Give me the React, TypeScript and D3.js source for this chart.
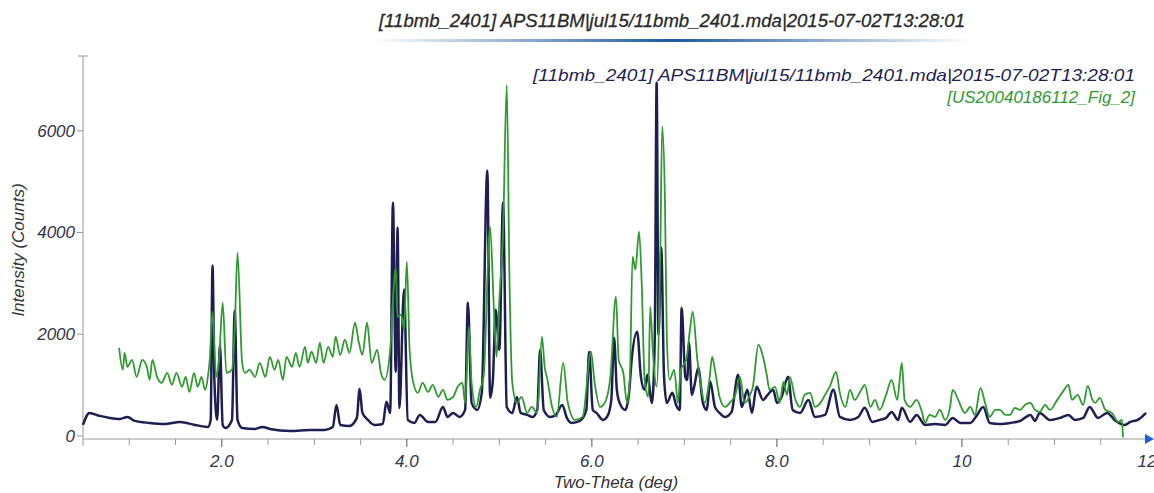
import React from "react";
import * as d3 from "d3";

// two-theta (deg), intensity (counts)
const navyX = [0.5, 0.57, 0.68, 0.79, 0.9, 0.98, 1.06, 1.22, 1.38, 1.55, 1.71, 1.85, 1.88, 1.9, 1.92, 1.95, 1.98, 2.01, 2.04, 2.11, 2.14, 2.17, 2.22, 2.36, 2.44, 2.52, 2.74, 2.95, 3.11, 3.2, 3.24, 3.28, 3.38, 3.46, 3.49, 3.52, 3.58, 3.65, 3.74, 3.78, 3.82, 3.85, 3.88, 3.9, 3.92, 3.97, 4.01, 4.08, 4.14, 4.23, 4.31, 4.39, 4.44, 4.5, 4.57, 4.63, 4.66, 4.7, 4.76, 4.81, 4.87, 4.9, 4.93, 4.96, 5.0, 5.04, 5.08, 5.14, 5.19, 5.23, 5.3, 5.36, 5.41, 5.44, 5.48, 5.55, 5.61, 5.68, 5.73, 5.78, 5.87, 5.94, 5.97, 6.01, 6.05, 6.12, 6.17, 6.21, 6.24, 6.27, 6.3, 6.36, 6.4, 6.43, 6.49, 6.53, 6.57, 6.6, 6.65, 6.68, 6.7, 6.72, 6.75, 6.78, 6.81, 6.87, 6.91, 6.95, 6.97, 7.01, 7.03, 7.05, 7.08, 7.11, 7.15, 7.2, 7.24, 7.28, 7.33, 7.38, 7.44, 7.51, 7.58, 7.62, 7.68, 7.73, 7.78, 7.85, 7.9, 7.96, 8.0, 8.05, 8.12, 8.17, 8.25, 8.34, 8.41, 8.52, 8.61, 8.68, 8.79, 8.88, 8.95, 9.03, 9.11, 9.18, 9.24, 9.31, 9.35, 9.44, 9.51, 9.6, 9.71, 9.82, 9.9, 9.98, 10.09, 10.15, 10.23, 10.3, 10.41, 10.52, 10.63, 10.74, 10.79, 10.84, 10.95, 11.06, 11.15, 11.22, 11.31, 11.38, 11.47, 11.57, 11.65, 11.76, 11.82, 11.9, 11.99];
const navyY = [217, 453, 394, 355, 335, 374, 296, 256, 236, 276, 217, 177, 315, 3350, 1100, 315, 1790, 217, 158, 315, 2460, 315, 158, 138, 177, 138, 98, 118, 118, 177, 610, 217, 197, 355, 925, 453, 315, 217, 236, 670, 453, 4590, 1260, 4100, 550, 2880, 315, 256, 414, 276, 276, 571, 374, 453, 374, 512, 2620, 650, 512, 847, 5220, 749, 1100, 2480, 1694, 4590, 571, 453, 768, 453, 414, 374, 512, 1694, 512, 374, 414, 610, 355, 256, 296, 512, 1655, 512, 453, 315, 394, 709, 1930, 906, 650, 512, 808, 1497, 2049, 1162, 906, 1202, 650, 1950, 6950, 1990, 3700, 1162, 650, 847, 610, 512, 2520, 1162, 1100, 1832, 808, 1005, 1340, 650, 512, 1064, 571, 453, 374, 473, 1202, 571, 906, 453, 965, 709, 808, 906, 650, 768, 1162, 512, 453, 709, 374, 414, 906, 374, 315, 374, 552, 276, 315, 355, 473, 315, 552, 276, 414, 217, 236, 217, 355, 256, 256, 374, 571, 256, 236, 256, 296, 414, 296, 453, 315, 355, 414, 315, 355, 571, 355, 453, 315, 217, 276, 315, 453];

const greenX = [0.89, 0.93, 0.95, 0.98, 1.03, 1.08, 1.14, 1.19, 1.22, 1.25, 1.3, 1.35, 1.41, 1.46, 1.51, 1.57, 1.61, 1.65, 1.7, 1.74, 1.78, 1.82, 1.85, 1.87, 1.9, 1.94, 1.97, 2.01, 2.05, 2.11, 2.14, 2.17, 2.22, 2.25, 2.3, 2.36, 2.41, 2.47, 2.52, 2.57, 2.61, 2.66, 2.7, 2.76, 2.8, 2.84, 2.9, 2.93, 2.97, 3.02, 3.06, 3.1, 3.15, 3.2, 3.23, 3.28, 3.33, 3.38, 3.44, 3.48, 3.52, 3.57, 3.62, 3.68, 3.72, 3.76, 3.82, 3.85, 3.88, 3.9, 3.94, 3.97, 4.0, 4.03, 4.07, 4.12, 4.17, 4.23, 4.28, 4.34, 4.39, 4.44, 4.5, 4.55, 4.6, 4.63, 4.67, 4.7, 4.75, 4.79, 4.83, 4.9, 4.94, 4.97, 5.0, 5.04, 5.08, 5.11, 5.14, 5.19, 5.24, 5.3, 5.35, 5.41, 5.46, 5.49, 5.52, 5.57, 5.62, 5.69, 5.74, 5.82, 5.9, 5.99, 6.03, 6.09, 6.14, 6.2, 6.26, 6.29, 6.34, 6.38, 6.41, 6.44, 6.47, 6.51, 6.54, 6.57, 6.61, 6.63, 6.66, 6.7, 6.74, 6.76, 6.79, 6.81, 6.84, 6.89, 6.93, 6.96, 7.02, 7.06, 7.09, 7.14, 7.17, 7.22, 7.27, 7.3, 7.33, 7.38, 7.44, 7.49, 7.55, 7.6, 7.65, 7.71, 7.74, 7.8, 7.85, 7.89, 7.92, 7.98, 8.03, 8.07, 8.11, 8.14, 8.2, 8.25, 8.3, 8.36, 8.41, 8.47, 8.52, 8.57, 8.64, 8.68, 8.74, 8.79, 8.84, 8.9, 8.95, 9.01, 9.06, 9.11, 9.18, 9.24, 9.3, 9.35, 9.38, 9.44, 9.51, 9.57, 9.6, 9.65, 9.71, 9.76, 9.82, 9.87, 9.9, 9.96, 10.03, 10.09, 10.14, 10.2, 10.25, 10.3, 10.36, 10.41, 10.47, 10.52, 10.57, 10.63, 10.68, 10.74, 10.79, 10.84, 10.9, 10.95, 11.03, 11.09, 11.15, 11.19, 11.25, 11.31, 11.36, 11.41, 11.44, 11.49, 11.55, 11.62, 11.69, 11.73, 11.74];
const greenY = [1734, 1300, 1635, 1359, 1497, 1162, 1497, 1359, 1103, 1497, 1162, 1044, 1241, 1005, 1241, 965, 1162, 867, 1241, 965, 1162, 906, 1162, 1497, 2443, 1162, 1497, 2620, 1241, 1300, 2088, 3605, 1438, 1241, 1300, 1162, 1438, 1162, 1556, 1300, 1497, 1103, 1556, 1359, 1635, 1359, 1753, 1438, 1655, 1438, 1832, 1438, 1753, 1556, 1950, 1596, 1891, 1635, 2226, 1852, 1596, 2226, 1438, 1694, 1241, 1103, 1694, 2679, 3330, 2344, 2384, 2088, 3428, 1694, 1044, 847, 1044, 867, 1005, 768, 906, 709, 768, 965, 1044, 650, 2147, 1044, 571, 906, 1162, 4117, 2541, 1556, 2679, 3999, 6895, 3014, 1044, 650, 768, 453, 571, 453, 1950, 1359, 1103, 571, 374, 1438, 650, 315, 374, 1655, 1044, 571, 650, 1162, 2738, 1497, 1241, 650, 1103, 3526, 3270, 4019, 2935, 1103, 768, 2541, 1635, 965, 3664, 6087, 4590, 1950, 1103, 1300, 650, 1300, 1497, 2088, 2443, 1497, 1103, 650, 1103, 1556, 1300, 768, 571, 650, 808, 1162, 650, 808, 965, 1793, 1556, 1202, 906, 965, 650, 1064, 808, 1162, 709, 571, 808, 847, 571, 650, 808, 965, 1261, 847, 571, 906, 709, 867, 1005, 571, 709, 512, 808, 1103, 709, 1438, 709, 571, 709, 453, 256, 414, 374, 512, 315, 552, 906, 709, 453, 571, 414, 946, 650, 374, 512, 512, 414, 414, 552, 512, 610, 650, 512, 473, 610, 512, 709, 867, 1005, 709, 808, 610, 985, 709, 650, 749, 512, 453, 276, 315, -30];

const xTicks = [1, 1.5, 2, 2.5, 3, 3.5, 4, 4.5, 5, 5.5, 6, 6.5, 7, 7.5, 8, 8.5, 9, 9.5, 10, 10.5, 11, 11.5];
const xLabelValues = [2, 4, 6, 8, 10, 12];
const xLabelText = ["2.0", "4.0", "6.0", "8.0", "10", "12"];
const yTicks = [0, 2000, 4000, 6000];

const titleText = "[11bmb_2401] APS11BM|jul15/11bmb_2401.mda|2015-07-02T13:28:01";
const seriesNames = ["[11bmb_2401] APS11BM|jul15/11bmb_2401.mda|2015-07-02T13:28:01", "[US20040186112_Fig_2]"];
const seriesColors = ["#1e1e52", "#2f9a2f"];

const W = 1154;
const H = 493;
const font = "'Liberation Sans', Arial, sans-serif";

export default function App() {
  const x = d3.scaleLinear().domain([0.5, 12]).range([83, 1147]);
  const y = d3.scaleLinear().domain([-60, 7470]).range([439, 56]);

  const line = d3.line<[number, number]>()
    .x(d => x(d[0]))
    .y(d => y(d[1]))
    .curve(d3.curveMonotoneX);
  const navy = navyX.map((v, i) => [v, navyY[i]] as [number, number]);
  const green = greenX.map((v, i) => [v, greenY[i]] as [number, number]);

  const x0 = x.range()[0];
  const x1 = x.range()[1];
  const yBase = y(-60);

  return (
    <svg width={W} height={H} style={{ position: "absolute", left: 0, top: 0, background: "#fff" }}
      fontFamily={font} fontStyle="italic">
      <defs>
        <linearGradient id="uline" x1="0" x2="1" y1="0" y2="0">
          <stop offset="0" stopColor="#ffffff" />
          <stop offset="0.5" stopColor="#1d5a9c" />
          <stop offset="1" stopColor="#ffffff" />
        </linearGradient>
      </defs>

      {/* title */}
      <text x={672} y={27} textAnchor="middle" fontSize={18} fill="#2a2a2a" stroke="#2a2a2a" strokeWidth={0.3}
        textLength={586} lengthAdjust="spacingAndGlyphs">
        {titleText}
      </text>
      <rect x={372} y={39} width={600} height={3} fill="url(#uline)" />

      {/* axes */}
      <line x1={x0} x2={x0} y1={56} y2={446} stroke="#999" />
      <line x1={x0 - 5} x2={x0 + 5} y1={56} y2={56} stroke="#999" />
      <line x1={x0} x2={x1} y1={yBase} y2={yBase} stroke="#999" />
      <path d={`M${x1 - 2},${yBase - 5} L${x1 + 7},${yBase} L${x1 - 2},${yBase + 5} Z`} fill="#1f5fd6" />

      {xTicks.map(t => {
        const major = t % 2 === 0;
        return (
          <line key={t} x1={x(t)} x2={x(t)} y1={yBase} y2={yBase + (major ? 8 : 6)}
            stroke={major ? "#555" : "#999"} />
        );
      })}
      {xLabelValues.map((t, i) => (
        <text key={t} x={x(t)} y={467} textAnchor="middle" fontSize={17} fill="#33334a">{xLabelText[i]}</text>
      ))}

      {yTicks.map(t => (
        <g key={t}>
          <line x1={x0 - 6} x2={x0} y1={y(t)} y2={y(t)} stroke="#999" />
          <text x={x0 - 8} y={y(t) + 6} textAnchor="end" fontSize={17} fill="#33334a">{t}</text>
        </g>
      ))}

      <text x={616} y={488} textAnchor="middle" fontSize={17} fill="#333">Two-Theta (deg)</text>
      <text transform="translate(24,250) rotate(-90)" textAnchor="middle" fontSize={17} fill="#333">Intensity (Counts)</text>

      {/* series */}
      <path d={line(navy) || ""} fill="none" stroke={seriesColors[0]} strokeWidth={2.5} strokeLinejoin="round" />
      <path d={line(green) || ""} fill="none" stroke={seriesColors[1]} strokeWidth={1.8} strokeLinejoin="round" />

      {/* legend */}
      <text x={1135} y={81} textAnchor="end" fontSize={17} fill={seriesColors[0]} textLength={602} lengthAdjust="spacingAndGlyphs">
        {seriesNames[0]}
      </text>
      <text x={1135} y={103} textAnchor="end" fontSize={17} fill={seriesColors[1]}>{seriesNames[1]}</text>
    </svg>
  );
}
